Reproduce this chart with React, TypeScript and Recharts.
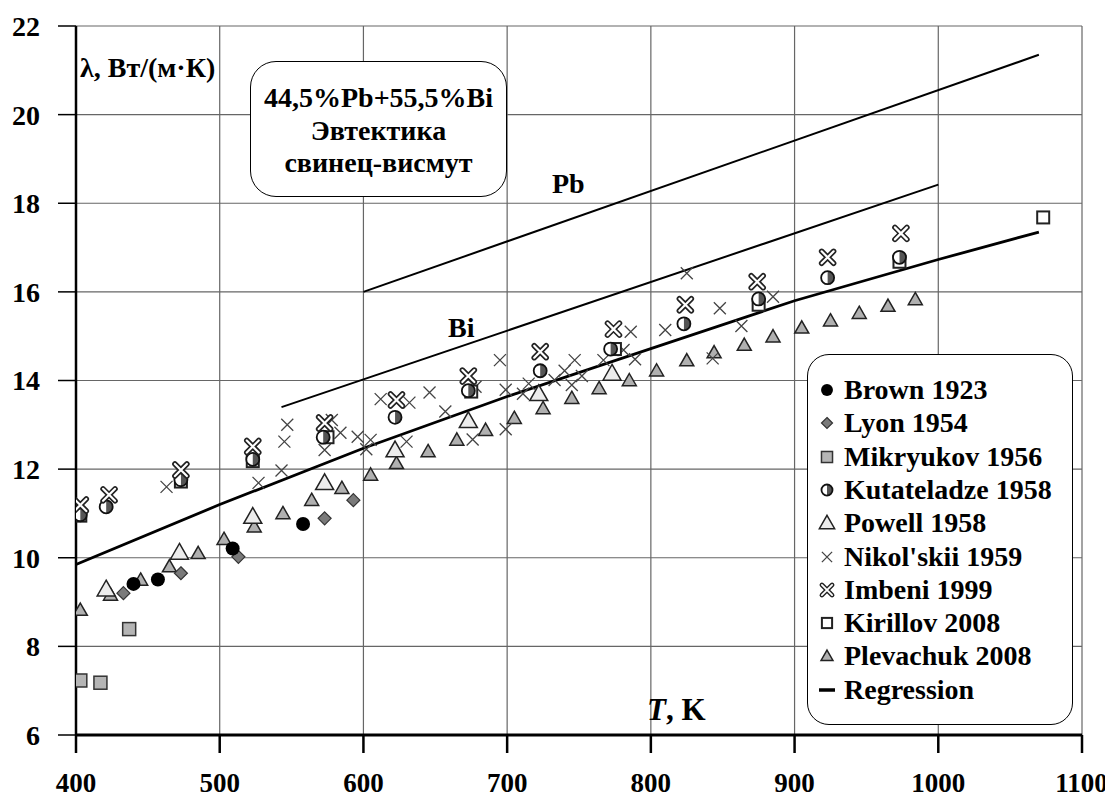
import React from "react";
import { ScatterChart, Scatter, XAxis, YAxis, CartesianGrid } from "recharts";

const xTicks = [400, 500, 600, 700, 800, 900, 1000, 1100];
const yTicks = [6, 8, 10, 12, 14, 16, 18, 20, 22];

const brown = [
  { x: 440, y: 9.41 }, { x: 457, y: 9.51 }, { x: 509, y: 10.21 }, { x: 558, y: 10.76 },
];
const lyon = [
  { x: 433, y: 9.2 }, { x: 473, y: 9.65 }, { x: 513, y: 10.02 }, { x: 573, y: 10.89 }, { x: 593, y: 11.3 },
];
const mikryukov = [
  { x: 403, y: 7.23 }, { x: 417, y: 7.18 }, { x: 437, y: 8.39 },
];
const kutateladze = [
  { x: 403, y: 10.97 }, { x: 421, y: 11.15 }, { x: 473, y: 11.76 }, { x: 523, y: 12.22 },
  { x: 572, y: 12.72 }, { x: 622, y: 13.17 }, { x: 673, y: 13.77 }, { x: 723, y: 14.22 },
  { x: 772, y: 14.71 }, { x: 823, y: 15.28 }, { x: 875, y: 15.84 }, { x: 923, y: 16.32 },
  { x: 973, y: 16.78 },
];
const powell = [
  { x: 421, y: 9.29 }, { x: 472, y: 10.12 }, { x: 523, y: 10.93 }, { x: 573, y: 11.69 },
  { x: 622, y: 12.43 }, { x: 673, y: 13.09 }, { x: 722, y: 13.7 }, { x: 773, y: 14.16 },
];
const nikolskii = [
  { x: 463, y: 11.6 }, { x: 527, y: 11.69 }, { x: 543, y: 11.97 }, { x: 545, y: 12.62 },
  { x: 547, y: 13.0 }, { x: 578, y: 13.11 }, { x: 573, y: 12.43 }, { x: 584, y: 12.82 },
  { x: 596, y: 12.73 }, { x: 602, y: 12.45 }, { x: 605, y: 12.66 }, { x: 612, y: 13.58 },
  { x: 632, y: 13.5 }, { x: 630, y: 12.62 }, { x: 646, y: 13.73 }, { x: 657, y: 13.3 },
  { x: 678, y: 13.86 }, { x: 676, y: 12.67 }, { x: 695, y: 14.46 }, { x: 699, y: 13.79 },
  { x: 699, y: 12.9 }, { x: 711, y: 13.7 }, { x: 715, y: 13.93 }, { x: 733, y: 14.01 },
  { x: 740, y: 14.22 }, { x: 745, y: 13.9 }, { x: 747, y: 14.46 }, { x: 752, y: 14.1 },
  { x: 767, y: 14.46 }, { x: 781, y: 14.69 }, { x: 786, y: 15.1 }, { x: 789, y: 14.48 },
  { x: 810, y: 15.14 }, { x: 825, y: 16.42 }, { x: 843, y: 14.5 }, { x: 848, y: 15.63 },
  { x: 863, y: 15.23 }, { x: 885, y: 15.89 },
];
const imbeni = [
  { x: 403, y: 11.19 }, { x: 423, y: 11.42 }, { x: 473, y: 11.98 }, { x: 523, y: 12.51 },
  { x: 573, y: 13.04 }, { x: 623, y: 13.56 }, { x: 673, y: 14.1 }, { x: 723, y: 14.65 },
  { x: 774, y: 15.16 }, { x: 824, y: 15.71 }, { x: 874, y: 16.23 }, { x: 923, y: 16.78 },
  { x: 974, y: 17.32 },
];
const kirillov = [
  { x: 403, y: 10.95 }, { x: 473, y: 11.72 }, { x: 523, y: 12.18 }, { x: 575, y: 12.72 },
  { x: 675, y: 13.75 }, { x: 775, y: 14.71 }, { x: 875, y: 15.71 }, { x: 973, y: 16.68 },
  { x: 1073, y: 17.68 },
];
const plevachuk = [
  { x: 403, y: 8.82 }, { x: 424, y: 9.16 }, { x: 445, y: 9.5 }, { x: 465, y: 9.8 },
  { x: 485, y: 10.1 }, { x: 503, y: 10.42 }, { x: 524, y: 10.7 }, { x: 544, y: 11.0 },
  { x: 564, y: 11.3 }, { x: 585, y: 11.57 }, { x: 605, y: 11.87 }, { x: 623, y: 12.13 },
  { x: 645, y: 12.4 }, { x: 665, y: 12.66 }, { x: 685, y: 12.88 }, { x: 705, y: 13.15 },
  { x: 725, y: 13.37 }, { x: 745, y: 13.6 }, { x: 764, y: 13.82 }, { x: 785, y: 14.0 },
  { x: 804, y: 14.22 }, { x: 825, y: 14.45 }, { x: 844, y: 14.63 }, { x: 865, y: 14.8 },
  { x: 885, y: 14.99 }, { x: 905, y: 15.19 }, { x: 925, y: 15.35 }, { x: 945, y: 15.52 },
  { x: 965, y: 15.68 }, { x: 984, y: 15.83 },
];
const regression = [
  { x: 400, y: 9.85 }, { x: 500, y: 11.2 }, { x: 600, y: 12.47 }, { x: 700, y: 13.64 },
  { x: 800, y: 14.72 }, { x: 900, y: 15.8 }, { x: 1000, y: 16.73 }, { x: 1070, y: 17.35 },
];
const pbLine = [{ x: 600, y: 16.0 }, { x: 1070, y: 21.35 }];
const biLine = [{ x: 543, y: 13.4 }, { x: 1000, y: 18.42 }];

const FONT = "Liberation Serif, DejaVu Serif, serif";

type Kind =
  | "brown" | "lyon" | "mikryukov" | "kutateladze" | "powell"
  | "nikolskii" | "imbeni" | "kirillov" | "plevachuk" | "regression";

function marker(kind: Kind, cx: number, cy: number, s = 1) {
  switch (kind) {
    case "brown":
      return <circle cx={cx} cy={cy} r={7 * s} fill="#000" />;
    case "lyon": {
      const r = 6.5 * s;
      return (
        <polygon
          points={`${cx},${cy - r} ${cx + r},${cy} ${cx},${cy + r} ${cx - r},${cy}`}
          fill="#7a7a7a" stroke="#333" strokeWidth={1.2}
        />
      );
    }
    case "mikryukov": {
      const h = 6.5 * s;
      return <rect x={cx - h} y={cy - h} width={2 * h} height={2 * h} fill="#b5b5b5" stroke="#333" strokeWidth={1.5} />;
    }
    case "kutateladze": {
      const r = 6.5 * s;
      return (
        <g>
          <circle cx={cx} cy={cy} r={r} fill="#fff" />
          <path d={`M${cx},${cy - r} A${r},${r} 0 0 1 ${cx},${cy + r} Z`} fill="#555" />
          <circle cx={cx} cy={cy} r={r} fill="none" stroke="#111" strokeWidth={1.8} />
        </g>
      );
    }
    case "powell": {
      const w = 9 * s;
      return (
        <polygon
          points={`${cx},${cy - w} ${cx + w},${cy + w * 0.75} ${cx - w},${cy + w * 0.75}`}
          fill="#ececec" stroke="#222" strokeWidth={1.5}
        />
      );
    }
    case "nikolskii": {
      const h = 6 * s;
      return (
        <path d={`M${cx - h},${cy - h}L${cx + h},${cy + h}M${cx - h},${cy + h}L${cx + h},${cy - h}`}
          stroke="#444" strokeWidth={1.3} />
      );
    }
    case "imbeni": {
      const h = 6 * s;
      const d = `M${cx - h},${cy - h}L${cx + h},${cy + h}M${cx - h},${cy + h}L${cx + h},${cy - h}`;
      return (
        <g>
          <path d={d} stroke="#222" strokeWidth={5.5 * s} strokeLinecap="round" />
          <path d={d} stroke="#fff" strokeWidth={2.2 * s} strokeLinecap="round" />
        </g>
      );
    }
    case "kirillov": {
      const h = 6 * s;
      return <rect x={cx - h} y={cy - h} width={2 * h} height={2 * h} fill="#fff" stroke="#222" strokeWidth={2} />;
    }
    case "plevachuk": {
      const w = 7 * s;
      return (
        <polygon
          points={`${cx},${cy - w} ${cx + w},${cy + w * 0.75} ${cx - w},${cy + w * 0.75}`}
          fill="#b0b0b0" stroke="#222" strokeWidth={1.5}
        />
      );
    }
    case "regression":
      return <line x1={cx - 8} x2={cx + 8} y1={cy} y2={cy} stroke="#000" strokeWidth={3.5} />;
  }
}

const shapeOf = (kind: Kind) => (p: any) => marker(kind, p.cx, p.cy);
const noShape = () => <g />;

const legendItems: { kind: Kind; label: string }[] = [
  { kind: "brown", label: "Brown 1923" },
  { kind: "lyon", label: "Lyon 1954" },
  { kind: "mikryukov", label: "Mikryukov 1956" },
  { kind: "kutateladze", label: "Kutateladze 1958" },
  { kind: "powell", label: "Powell 1958" },
  { kind: "nikolskii", label: "Nikol'skii 1959" },
  { kind: "imbeni", label: "Imbeni 1999" },
  { kind: "kirillov", label: "Kirillov 2008" },
  { kind: "plevachuk", label: "Plevachuk 2008" },
  { kind: "regression", label: "Regression" },
];

const tickStyle = { fill: "#000", fontSize: 28, fontWeight: "bold", fontFamily: FONT };
const xTickStyle = { ...tickStyle, fontSize: 27 };

const abs = (left: number, top: number, extra: React.CSSProperties = {}): React.CSSProperties => ({
  position: "absolute",
  left,
  top,
  fontFamily: FONT,
  fontWeight: "bold",
  fontSize: 28,
  lineHeight: "28px",
  color: "#000",
  whiteSpace: "nowrap",
  ...extra,
});

export default function App() {
  return (
    <div style={{ position: "relative", width: 1100, height: 793, fontFamily: FONT }}>
      <ScatterChart width={1100} height={793} margin={{ top: 18, right: 26, bottom: 6, left: 8 }}>
        <CartesianGrid stroke="#666" strokeWidth={1.2} />
        <XAxis
          type="number"
          dataKey="x"
          domain={[400, 1100]}
          ticks={xTicks}
          allowDataOverflow
          height={60}
          tickSize={18}
          tickMargin={20}
          axisLine={{ stroke: "#000", strokeWidth: 3 }}
          tickLine={{ stroke: "#000", strokeWidth: 2.5 }}
          tick={xTickStyle}
        />
        <YAxis
          type="number"
          dataKey="y"
          domain={[6, 22]}
          ticks={yTicks}
          allowDataOverflow
          width={60}
          tickSize={18}
          tickMargin={18}
          axisLine={{ stroke: "#000", strokeWidth: 2.5 }}
          tickLine={{ stroke: "#000", strokeWidth: 1.5 }}
          tick={tickStyle}
        />
        <Scatter data={pbLine} line={{ stroke: "#000", strokeWidth: 2 }} shape={noShape} isAnimationActive={false} legendType="none" />
        <Scatter data={biLine} line={{ stroke: "#000", strokeWidth: 2 }} shape={noShape} isAnimationActive={false} legendType="none" />
        <Scatter data={regression} line={{ stroke: "#000", strokeWidth: 2.8 }} shape={noShape} isAnimationActive={false} legendType="none" />
        <Scatter data={plevachuk} shape={shapeOf("plevachuk")} isAnimationActive={false} />
        <Scatter data={powell} shape={shapeOf("powell")} isAnimationActive={false} />
        <Scatter data={nikolskii} shape={shapeOf("nikolskii")} isAnimationActive={false} />
        <Scatter data={mikryukov} shape={shapeOf("mikryukov")} isAnimationActive={false} />
        <Scatter data={lyon} shape={shapeOf("lyon")} isAnimationActive={false} />
        <Scatter data={brown} shape={shapeOf("brown")} isAnimationActive={false} />
        <Scatter data={kirillov} shape={shapeOf("kirillov")} isAnimationActive={false} />
        <Scatter data={kutateladze} shape={shapeOf("kutateladze")} isAnimationActive={false} />
        <Scatter data={imbeni} shape={shapeOf("imbeni")} isAnimationActive={false} />
      </ScatterChart>

      {/* axis titles and curve labels */}
      <div style={abs(72, 46)}>λ, Вт/(м·К)</div>
      <div style={abs(639, 686, { fontSize: 31, lineHeight: "31px" })}>
        <i>T</i>, K
      </div>
      <div style={abs(544, 162)}>Pb</div>
      <div style={abs(440, 306)}>Bi</div>

      {/* alloy box */}
      <div
        style={{
          position: "absolute",
          left: 242,
          top: 53,
          width: 257,
          height: 136,
          boxSizing: "border-box",
          border: "1.5px solid #000",
          borderRadius: 26,
          background: "#fff",
          fontFamily: FONT,
          fontWeight: "bold",
          fontSize: 28,
          lineHeight: "32.5px",
          textAlign: "center",
          paddingTop: 20,
        }}
      >
        <div>44,5%Pb+55,5%Bi</div>
        <div>Эвтектика</div>
        <div>свинец-висмут</div>
      </div>

      {/* legend */}
      <div
        style={{
          position: "absolute",
          left: 799,
          top: 346,
          width: 266,
          height: 371,
          boxSizing: "border-box",
          border: "1.5px solid #000",
          borderRadius: 22,
          background: "#fff",
        }}
      >
        {legendItems.map((it, i) => (
          <div key={it.label} style={{ position: "absolute", left: 0, top: 19 + i * 33.3, height: 33, width: 262 }}>
            <svg width={34} height={33} style={{ position: "absolute", left: 4, top: 0 }}>
              {marker(it.kind, 15, 16, 0.85)}
            </svg>
            <div style={abs(36, 2)}>{it.label}</div>
          </div>
        ))}
      </div>
    </div>
  );
}
